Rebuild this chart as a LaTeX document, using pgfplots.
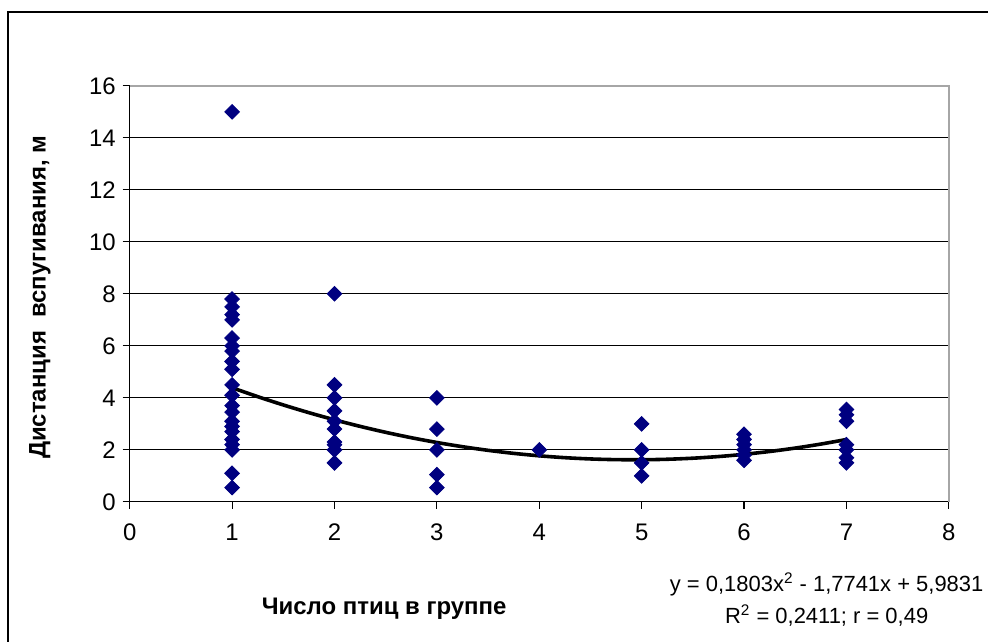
\documentclass[border=0pt]{standalone}
\usepackage{pgfplots}
\pgfplotsset{compat=1.18}
\usepackage{fontspec}
\setmainfont{Liberation Sans}
\definecolor{navy}{HTML}{000080}
\begin{document}
\begin{tikzpicture}
\path (-65pt,-70pt) rectangle (430pt,251.5pt);
\draw[line width=0.8pt] (-61pt,-70pt) -- (-61pt,245.5pt) -- (430pt,245.5pt);
\begin{axis}[
  at={(0,0)}, anchor=south west,
  scale only axis, width=410.5pt, height=208.5pt,
  xmin=0, xmax=8, ymin=0, ymax=16,
  xtick={0,1,...,8}, ytick={0,2,...,16},
  axis x line*=bottom, axis y line*=left,
  axis line style={black, line width=0.6pt, -},
  ymajorgrids, grid style={black, line width=0.5pt},
  tick align=outside, major tick length=3.5pt,
  tick style={black, line width=0.6pt},
  tick label style={font=\fontsize{12}{14}\selectfont},
  /pgf/number format/assume math mode=true,
  xticklabel style={yshift=-4pt},
  clip=false,
]
\draw[gray!70, line width=0.8pt] (rel axis cs:0,1) -- (rel axis cs:1,1) -- (rel axis cs:1,0);
\addplot[only marks, mark=square*, mark size=2.6pt, mark options={rotate=45, navy, fill=navy}] coordinates {
(1,15) (1,7.8) (1,7.5) (1,7.2) (1,7.0) (1,6.3) (1,6.0) (1,5.8) (1,5.4) (1,5.1)
(1,4.5) (1,4.1) (1,3.7) (1,3.45) (1,3.1) (1,2.9) (1,2.7) (1,2.4) (1,2.2) (1,2.0)
(1,1.1) (1,0.55)
(2,8) (2,4.5) (2,4) (2,3.5) (2,3.1) (2,2.8) (2,2.3) (2,2.2) (2,2.0) (2,1.5)
(3,4) (3,2.8) (3,2) (3,1.05) (3,0.55)
(4,2)
(5,3) (5,2) (5,1.5) (5,1)
(6,2.6) (6,2.4) (6,2.2) (6,2.0) (6,1.8) (6,1.6)
(7,3.55) (7,3.35) (7,3.1) (7,2.2) (7,2.0) (7,1.7) (7,1.5)
};
\addplot[black, line width=1.8pt, smooth] coordinates {
(1,4.3893) (1.25,4.0472) (1.5,3.7276) (1.75,3.4306) (2,3.1561) (2.25,2.9041)
(2.5,2.6747) (2.75,2.4678) (3,2.2835) (3.25,2.1217) (3.5,1.9824) (3.75,1.8657)
(4,1.7715) (4.25,1.6998) (4.5,1.6507) (4.75,1.6242) (5,1.6201) (5.25,1.6386)
(5.5,1.6796) (5.75,1.7432) (6,1.8293) (6.25,1.9379) (6.5,2.0691) (6.75,2.2228)
(7,2.3991)
};
\end{axis}
\node[font=\bfseries\fontsize{12}{14}\selectfont] at (127.5pt,-53.5pt) {Число птиц в группе};
\node[font=\bfseries\fontsize{12}{14}\selectfont, rotate=90] at (-45pt,102.5pt) {Дистанция\ \ вспугивания, м};
\node[font=\fontsize{11}{16}\selectfont, align=center] at (349.25pt,-49pt) {y = 0,1803x\textsuperscript{2} - 1,7741x + 5,9831\\R\textsuperscript{2} = 0,2411; r = 0,49};
\end{tikzpicture}
\end{document}
